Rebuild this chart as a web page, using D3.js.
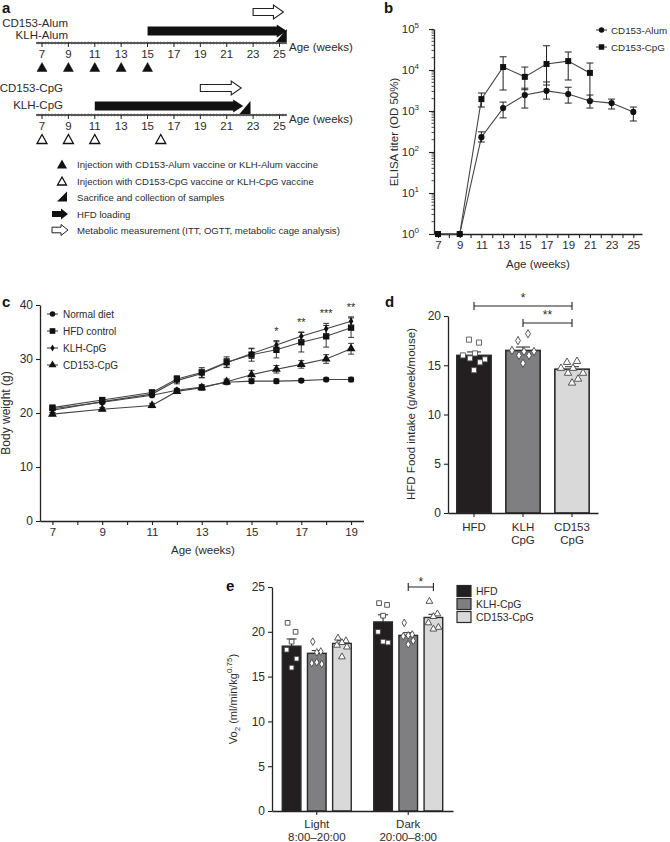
<!DOCTYPE html>
<html><head><meta charset="utf-8">
<script src="https://cdn.jsdelivr.net/npm/d3@7"></script>
<style>
body{margin:0;background:#fff}
svg{display:block}
text{font-family:"Liberation Sans",Arial,Helvetica,sans-serif;fill:#2b2b2b}
</style>
</head><body>
<svg id="fig" width="670" height="842"></svg>
<script>
// ================= DATA =================
// Panel a: schedule (weeks)
const timelineTicks = [7,9,11,13,15,17,19,21,23,25];
const alumInjectionWeeks = [7,9,11,13,15];
const cpgInjectionWeeks = [7,9,11,16];
const hfdStartWeeks = [15, 11];
const hfdEndWeeks = [25.55, 22.25];
const metabolicStartWeeks = [23, 19];
const metabolicEndWeeks = [25.3, 22.1];
const sacrificeWeeks = [25.55, 22.8];
const groupLabelsTop = ["CD153-Alum","KLH-Alum"];
const groupLabelsBottom = ["CD153-CpG","KLH-CpG"];
const legendTextsA = [
  "Injection with CD153-Alum vaccine or KLH-Alum vaccine",
  "Injection with CD153-CpG vaccine or KLH-CpG vaccine",
  "Sacrifice and collection of samples",
  "HFD loading",
  "Metabolic measurement (ITT, OGTT, metabolic cage analysis)"
];

// Panel b: ELISA titer
const alumWeeks = [7,9,11,13,15,17,19,21,23,25];
const alumTiter = [1,1,230,1180,2450,3100,2600,1750,1560,950];
const alumLow   = [1,1,175,680,1180,1950,1560,1180,1120,570];
const alumHigh  = [1,1,310,1650,3600,5100,3800,2450,1950,1250];
const cpgWeeks  = [7,9,11,13,15,17,19,21];
const cpgTiter  = [1,1,1950,11800,6800,14000,16500,8500];
const cpgLow    = [1,1,1250,3250,3300,4300,5700,1850];
const cpgHigh   = [1,1,2750,21000,11800,39000,27500,14800];
const elisaSeries = ["CD153-Alum","CD153-CpG"];
const elisaYTicks = [0,1,2,3,4,5];

// Panel c: body weight
const bwWeeks = [7,9,11,12,13,14,15,16,17,18,19];
const bwSeriesNames = ["Normal diet","HFD control","KLH-CpG","CD153-CpG"];
const bwNormal = [20.8,22.0,23.3,24.2,24.8,25.7,25.9,25.9,26.0,26.2,26.2];
const bwHFD    = [21.0,22.4,23.8,26.3,27.5,29.4,30.8,31.7,33.1,34.2,35.8];
const bwKLH    = [20.5,22.1,23.5,26.0,27.3,29.3,31.0,32.6,34.2,35.6,37.0];
const bwCD153  = [19.8,20.7,21.4,24.0,24.7,25.8,27.1,28.1,29.0,30.0,31.9];
const bwNormalErr = [0.3,0.3,0.3,0.3,0.4,0.4,0.4,0.4,0.3,0.3,0.4];
const bwHFDErr    = [0.4,0.4,0.5,0.6,0.9,1.0,1.2,1.5,1.8,2.0,1.8];
const bwKLHErr    = [0.4,0.3,0.4,0.6,0.8,0.8,0.9,0.8,0.8,1.0,0.8];
const bwCD153Err  = [0.3,0.3,0.4,0.4,0.5,0.5,0.8,0.7,0.7,0.8,1.0];
const bwSigWeeks = [16,17,18,19];
const bwSigLabels = ["*","**","***","**"];

// Panel d: HFD food intake
const intakeGroups = ["HFD","KLH-CpG","CD153-CpG"];
const intakeMeans = [16.0,16.5,14.6];
const intakeSem = [0.35,0.35,0.25];
const intakeHFD   = [17.6,17.3,16.0,16.2,15.6,15.7,15.3,14.5];
const intakeKLH   = [17.5,18.2,16.5,16.4,16.4,16.0,16.0,15.2];
const intakeCD153 = [15.3,15.4,14.7,14.7,14.2,14.2,13.6,13.2];

// Panel e: VO2
const vo2Periods = ["Light","Dark"];
const vo2PeriodLines = [["Light","8:00\u201320:00"],["Dark","20:00\u20138:00"]];
const vo2Groups = ["HFD","KLH-CpG","CD153-CpG"];
const vo2LightMeans = [18.4,17.6,18.7];
const vo2DarkMeans  = [21.1,19.6,21.6];
const vo2LightSem = [0.8,0.3,0.3];
const vo2DarkSem  = [0.8,0.3,0.35];
const vo2LightHFD   = [21.0,20.0,18.9,18.0,17.0,16.0];
const vo2LightKLH   = [18.9,17.8,17.7,16.5,16.4,16.6];
const vo2LightCD153 = [19.3,19.0,18.8,18.5,18.3,17.2];
const vo2DarkHFD    = [23.2,23.0,21.8,20.0,18.8,18.9];
const vo2DarkKLH    = [21.0,19.7,19.6,19.5,19.0,18.6];
const vo2DarkCD153  = [23.4,22.0,21.7,21.0,20.5,20.3];

// ================= DRAWING =================
const svg = d3.select("#fig");
const INK = "#222";
const barColors = ["#231f20","#7f7f81","#d9d9da"];

function styleAxis(g, fs){
  g.selectAll("path.domain").attr("stroke",INK).attr("stroke-width",1.3);
  g.selectAll(".tick line").attr("stroke",INK).attr("stroke-width",1.1);
  g.selectAll(".tick text").attr("font-size",fs||11.5)
    .attr("font-family",'"Liberation Sans",Arial,sans-serif');
}
function panelLabel(t,x,y){
  svg.append("text").attr("x",x).attr("y",y).attr("font-size",15).attr("font-weight","bold").style("fill","#111").text(t);
}
function vLabel(g,x,y,t,fs){
  return g.append("text").attr("transform",`translate(${x},${y}) rotate(-90)`)
    .attr("text-anchor","middle").attr("font-size",fs||11.5).text(t);
}

// ---------- Panel a ----------
panelLabel("a",2,13);
const ax = d3.scaleLinear().domain([7,25]).range([42,279.5]);
const gA = svg.append("g");
function arrowPath(x0,x1,yc,bh,hh,hl){
  return `M${x0},${yc-bh}L${x1-hl},${yc-bh}L${x1-hl},${yc-hh}L${x1},${yc}L${x1-hl},${yc+hh}L${x1-hl},${yc+bh}L${x0},${yc+bh}Z`;
}
function triPath(cx,cy,w,h){
  return `M${cx},${cy-h/2}L${cx+w/2},${cy+h/2}L${cx-w/2},${cy+h/2}Z`;
}
function sacPath(xr,yb,w,h){
  return `M${xr-w},${yb}L${xr},${yb-h}L${xr},${yb}Z`;
}
const tlConf = [
  {axisY:43, blackY:31, whiteY:12, labels:groupLabelsTop, labelX:68, labelY:[27,39], inj:alumInjectionWeeks, filled:true},
  {axisY:115, blackY:106, whiteY:88, labels:groupLabelsBottom, labelX:63, labelY:[92,109], inj:cpgInjectionWeeks, filled:false}
];
tlConf.forEach((c,i)=>{
  gA.append("line").attr("x1",ax(6.55)).attr("x2",ax(25.55)).attr("y1",c.axisY).attr("y2",c.axisY)
    .attr("stroke",INK).attr("stroke-width",1.4);
  d3.range(6.75,25.6,0.25).forEach(w=>{
    gA.append("line").attr("x1",ax(w)).attr("x2",ax(w)).attr("y1",c.axisY-1.5).attr("y2",c.axisY+1.5)
      .attr("stroke","#555").attr("stroke-width",0.6);
  });
  timelineTicks.forEach(t=>{
    gA.append("line").attr("x1",ax(t)).attr("x2",ax(t)).attr("y1",c.axisY).attr("y2",c.axisY+4)
      .attr("stroke",INK).attr("stroke-width",1);
    gA.append("text").attr("x",ax(t)).attr("y",c.axisY+15).attr("text-anchor","middle")
      .attr("font-size",11.5).text(t);
  });
  gA.append("text").attr("x",289).attr("y",c.axisY+8).attr("font-size",11.5).text("Age (weeks)");
  c.labels.forEach((l,j)=>{
    gA.append("text").attr("x",c.labelX).attr("y",c.labelY[j]).attr("text-anchor","end")
      .attr("font-size",11.5).text(l);
  });
  gA.append("path").attr("d",arrowPath(ax(hfdStartWeeks[i]),ax(hfdEndWeeks[i]),c.blackY,4.5,6.5,10))
    .attr("fill","#111");
  gA.append("path").attr("d",arrowPath(ax(metabolicStartWeeks[i]),ax(metabolicEndWeeks[i]),c.whiteY,3.5,7,10))
    .attr("fill","#fff").attr("stroke",INK).attr("stroke-width",1.1);
  gA.append("path").attr("d",sacPath(ax(sacrificeWeeks[i]),c.axisY-1,11,13)).attr("fill","#111");
  c.inj.forEach(w=>{
    gA.append("path").attr("d",triPath(ax(w),c.axisY+24,10,9))
      .attr("fill",c.filled?"#111":"#fff").attr("stroke","#111").attr("stroke-width",c.filled?0.5:1.3);
  });
});
const legY = [164,181,197,214,230];
legendTextsA.forEach((t,i)=>{
  gA.append("text").attr("x",77).attr("y",legY[i]+3.5).attr("font-size",9.6).text(t);
});
gA.append("path").attr("d",triPath(62,legY[0],10,9)).attr("fill","#111");
gA.append("path").attr("d",triPath(62,legY[1],9,8)).attr("fill","#fff").attr("stroke","#111").attr("stroke-width",1.3);
gA.append("path").attr("d",sacPath(67,legY[2]+4.5,10,10)).attr("fill","#111");
gA.append("path").attr("d",arrowPath(52,68,legY[3],3,5.5,7)).attr("fill","#111");
gA.append("path").attr("d",arrowPath(52,68,legY[4],2.8,5.5,7)).attr("fill","#fff").attr("stroke",INK).attr("stroke-width",1);

// ---------- Panel b ----------
panelLabel("b",384,13);
const bx = d3.scaleLinear().domain([6.63,25.8]).range([434,642]);
const by = d3.scaleLog().domain([1,1e5]).range([234,29]);
const gB = svg.append("g");
gB.append("g").attr("transform","translate(0,234)")
  .call(d3.axisBottom(bx).tickValues(d3.range(7,26)).tickSize(4).tickSizeOuter(0).tickFormat(d=>d%2?d:""))
  .call(g=>styleAxis(g,11.5));
gB.append("g").attr("transform","translate(434,0)")
  .call(d3.axisLeft(by).tickValues(elisaYTicks.map(e=>Math.pow(10,e))).tickSize(5).tickSizeOuter(0).tickFormat(""))
  .call(g=>styleAxis(g));
elisaYTicks.slice(0,-1).forEach(e=>{
  d3.range(2,10).forEach(m=>{
    const v = m*Math.pow(10,e);
    gB.append("line").attr("x1",431.5).attr("x2",434).attr("y1",by(v)).attr("y2",by(v))
      .attr("stroke",INK).attr("stroke-width",0.8);
  });
});
elisaYTicks.forEach(e=>{
  const t = gB.append("text").attr("x",419).attr("y",by(Math.pow(10,e))+4).attr("text-anchor","end").attr("font-size",11.5);
  t.append("tspan").text("10");
  t.append("tspan").attr("font-size",8).attr("dy",-5).text(e);
});
vLabel(gB,398,132,"ELISA titer (OD 50%)");
gB.append("text").attr("x",538).attr("y",268).attr("text-anchor","middle").attr("font-size",11.5).text("Age (weeks)");
function drawSeriesB(weeks,vals,lo,hi,shape){
  const line = d3.line().x((d,i)=>bx(weeks[i])).y(d=>by(d));
  gB.append("path").attr("d",line(vals)).attr("fill","none").attr("stroke","#444").attr("stroke-width",1.1);
  vals.forEach((v,i)=>{
    if(hi[i]>v*1.01){
      const x = bx(weeks[i]);
      gB.append("line").attr("x1",x).attr("x2",x).attr("y1",by(lo[i])).attr("y2",by(hi[i])).attr("stroke",INK).attr("stroke-width",1);
      [lo[i],hi[i]].forEach(e=>gB.append("line").attr("x1",x-3.5).attr("x2",x+3.5).attr("y1",by(e)).attr("y2",by(e)).attr("stroke",INK).attr("stroke-width",1));
    }
    gB.append("path").attr("transform",`translate(${bx(weeks[i])},${by(v)})`)
      .attr("d",d3.symbol().type(shape).size(shape===d3.symbolSquare?36:30)()).attr("fill","#111");
  });
}
drawSeriesB(alumWeeks,alumTiter,alumLow,alumHigh,d3.symbolCircle);
drawSeriesB(cpgWeeks,cpgTiter,cpgLow,cpgHigh,d3.symbolSquare);
[d3.symbolCircle,d3.symbolSquare].forEach((s,i)=>{
  const y = 30+ i*17;
  gB.append("line").attr("x1",596).attr("x2",607).attr("y1",y).attr("y2",y).attr("stroke","#444").attr("stroke-width",1.1);
  gB.append("path").attr("transform",`translate(601.5,${y})`).attr("d",d3.symbol().type(s).size(i?30:24)()).attr("fill","#111");
  gB.append("text").attr("x",611).attr("y",y+3.5).attr("font-size",9.8).text(elisaSeries[i]);
});

// ---------- Panel c ----------
panelLabel("c",2,307);
const cxs = d3.scaleLinear().domain([6.5,19.5]).range([40,363.5]);
const cys = d3.scaleLinear().domain([0,40]).range([521,305]);
const gC = svg.append("g");
gC.append("g").attr("transform","translate(0,521)")
  .call(d3.axisBottom(cxs).tickValues(d3.range(7,20)).tickSize(4).tickSizeOuter(0).tickFormat(d=>d%2?d:""))
  .call(g=>styleAxis(g,11.5));
gC.append("g").attr("transform","translate(40,0)")
  .call(d3.axisLeft(cys).tickValues([0,10,20,30,40]).tickSize(4).tickSizeOuter(0))
  .call(g=>styleAxis(g,12));
vLabel(gC,10,413,"Body weight (g)",12);
gC.append("text").attr("x",203).attr("y",554).attr("text-anchor","middle").attr("font-size",11.5).text("Age (weeks)");
const bwShapes = [d3.symbolCircle,d3.symbolSquare,d3.symbolDiamond,d3.symbolTriangle];
const bwSizes = [30,40,18,34];
const bwVals = [bwNormal,bwHFD,bwKLH,bwCD153];
const bwErrs = [bwNormalErr,bwHFDErr,bwKLHErr,bwCD153Err];
bwVals.forEach((vals,s)=>{
  const line = d3.line().x((d,i)=>cxs(bwWeeks[i])).y(d=>cys(d));
  gC.append("path").attr("d",line(vals)).attr("fill","none").attr("stroke","#444").attr("stroke-width",1.1);
});
bwVals.forEach((vals,s)=>{
  vals.forEach((v,i)=>{
    const x = cxs(bwWeeks[i]), e = bwErrs[s][i];
    gC.append("line").attr("x1",x).attr("x2",x).attr("y1",cys(v-e)).attr("y2",cys(v+e)).attr("stroke",INK).attr("stroke-width",0.9);
    [v-e,v+e].forEach(t=>gC.append("line").attr("x1",x-3).attr("x2",x+3).attr("y1",cys(t)).attr("y2",cys(t)).attr("stroke",INK).attr("stroke-width",0.9));
    gC.append("path").attr("transform",`translate(${x},${cys(v)})`)
      .attr("d",d3.symbol().type(bwShapes[s]).size(bwSizes[s])()).attr("fill","#111");
  });
});
bwSigWeeks.forEach((w,i)=>{
  const idx = bwWeeks.indexOf(w);
  const top = Math.max(bwKLH[idx]+bwKLHErr[idx], bwHFD[idx]+bwHFDErr[idx]);
  gC.append("text").attr("x",cxs(w)).attr("y",cys(top)-6).attr("text-anchor","middle").attr("font-size",11).text(bwSigLabels[i]);
});
bwSeriesNames.forEach((n,i)=>{
  const y = 314 + i*17;
  gC.append("line").attr("x1",47).attr("x2",58).attr("y1",y).attr("y2",y).attr("stroke","#444").attr("stroke-width",1.1);
  gC.append("path").attr("transform",`translate(52.5,${y})`).attr("d",d3.symbol().type(bwShapes[i]).size(bwSizes[i]*0.8)()).attr("fill","#111");
  gC.append("text").attr("x",63).attr("y",y+3.5).attr("font-size",10).text(n);
});

// ---------- Panel d ----------
panelLabel("d",385,307);
const dx = d3.scaleBand().domain(intakeGroups).range([448,598]).paddingInner(0.3).paddingOuter(0.18);
const dy = d3.scaleLinear().domain([0,20]).range([513,316]);
const gD = svg.append("g");
gD.selectAll("rect").data(intakeMeans).join("rect")
  .attr("x",(d,i)=>dx(intakeGroups[i])).attr("width",dx.bandwidth())
  .attr("y",d=>dy(d)).attr("height",d=>dy(0)-dy(d))
  .attr("fill",(d,i)=>barColors[i]).attr("stroke","#2a2a2a").attr("stroke-width",1.6);
intakeMeans.forEach((m,i)=>{
  const x = dx(intakeGroups[i])+dx.bandwidth()/2;
  gD.append("line").attr("x1",x).attr("x2",x).attr("y1",dy(m)).attr("y2",dy(m+intakeSem[i])).attr("stroke",INK).attr("stroke-width",1);
  gD.append("line").attr("x1",x-7).attr("x2",x+7).attr("y1",dy(m+intakeSem[i])).attr("y2",dy(m+intakeSem[i])).attr("stroke",INK).attr("stroke-width",1);
});
gD.append("g").attr("transform","translate(0,513)")
  .call(d3.axisBottom(dx).tickSize(4).tickSizeOuter(0).tickFormat(""))
  .call(g=>styleAxis(g));
gD.append("g").attr("transform","translate(448,0)")
  .call(d3.axisLeft(dy).tickValues([0,5,10,15,20]).tickSize(4).tickSizeOuter(0))
  .call(g=>styleAxis(g,12));
intakeGroups.forEach((gname,i)=>{
  const x = dx(gname)+dx.bandwidth()/2;
  const parts = gname.split("-");
  parts.forEach((p,j)=>gD.append("text").attr("x",x).attr("y",531+j*13).attr("text-anchor","middle").attr("font-size",11.5).text(p));
});
const dPts = [intakeHFD,intakeKLH,intakeCD153];
const dShapes = [d3.symbolSquare,d3.symbolDiamond,d3.symbolTriangle];
const dSizes = [26,20,24];
const jitter8 = [-5,5,-11,1,11,-4,6,0];
dPts.forEach((arr,gi)=>{
  const cx0 = dx(intakeGroups[gi])+dx.bandwidth()/2;
  arr.forEach((v,j)=>{
    gD.append("path").attr("transform",`translate(${cx0+jitter8[j]},${dy(v)})`)
      .attr("d",d3.symbol().type(dShapes[gi]).size(dSizes[gi])())
      .attr("fill","#fff").attr("stroke",gi===0?"#555":"#444").attr("stroke-width",0.9);
  });
});
vLabel(gD,415,414,"HFD Food intake (g/week/mouse)");
function bracket(g,x1,x2,y,label,ty){
  g.append("path").attr("d",`M${x1},${y-4}V${y+4}M${x1},${y}H${x2}M${x2},${y-4}V${y+4}`).attr("stroke",INK).attr("stroke-width",1.1).attr("fill","none");
  g.append("text").attr("x",(x1+x2)/2).attr("y",ty).attr("text-anchor","middle").attr("font-size",12).text(label);
}
const dc = i=>dx(intakeGroups[i])+dx.bandwidth()/2;
bracket(gD,dc(0),dc(2),306,"*",302);
bracket(gD,dc(1),dc(2),323,"**",319);

// ---------- Panel e ----------
panelLabel("e",226,591);
const ex0 = d3.scaleBand().domain(vo2Periods).range([272,453]).paddingInner(0.235).paddingOuter(0.107);
const ex1 = d3.scaleBand().domain(vo2Groups).range([0,ex0.bandwidth()]).paddingInner(0.26).paddingOuter(0.02);
const ey = d3.scaleLinear().domain([0,25]).range([811,587]);
const gE = svg.append("g");
const vo2Means = [vo2LightMeans,vo2DarkMeans];
const vo2Sems = [vo2LightSem,vo2DarkSem];
const vo2Pts = [[vo2LightHFD,vo2LightKLH,vo2LightCD153],[vo2DarkHFD,vo2DarkKLH,vo2DarkCD153]];
const jitter6 = [-4,4,0,-5,5,0];
const eShapeSizes = [22,17,20];
vo2Periods.forEach((p,pi)=>{
  vo2Groups.forEach((gname,gi)=>{
    const x0 = ex0(p)+ex1(gname), m = vo2Means[pi][gi], s = vo2Sems[pi][gi];
    gE.append("rect").attr("x",x0).attr("width",ex1.bandwidth()).attr("y",ey(m)).attr("height",ey(0)-ey(m))
      .attr("fill",barColors[gi]).attr("stroke","#2a2a2a").attr("stroke-width",1.4);
    const xc = x0+ex1.bandwidth()/2;
    gE.append("line").attr("x1",xc).attr("x2",xc).attr("y1",ey(m)).attr("y2",ey(m+s)).attr("stroke",INK).attr("stroke-width",1);
    gE.append("line").attr("x1",xc-5).attr("x2",xc+5).attr("y1",ey(m+s)).attr("y2",ey(m+s)).attr("stroke",INK).attr("stroke-width",1);
    vo2Pts[pi][gi].forEach((v,j)=>{
      gE.append("path").attr("transform",`translate(${xc+jitter6[j]},${ey(v)})`)
        .attr("d",d3.symbol().type(dShapes[gi]).size(eShapeSizes[gi])())
        .attr("fill","#fff").attr("stroke","#444").attr("stroke-width",0.9);
    });
  });
});
gE.append("g").attr("transform","translate(0,811)")
  .call(d3.axisBottom(ex0).tickSize(4).tickSizeOuter(0).tickFormat(""))
  .call(g=>styleAxis(g));
gE.append("g").attr("transform","translate(272,0)")
  .call(d3.axisLeft(ey).tickValues([0,5,10,15,20,25]).tickSize(4).tickSizeOuter(0))
  .call(g=>styleAxis(g,12));
vo2PeriodLines.forEach((lines,pi)=>{
  const x = ex0(vo2Periods[pi])+ex0.bandwidth()/2;
  lines.forEach((l,j)=>gE.append("text").attr("x",x).attr("y",828+j*13).attr("text-anchor","middle").attr("font-size",11.5).text(l));
});
{
  const t = gE.append("text").attr("transform","translate(237,699) rotate(-90)").attr("text-anchor","middle").attr("font-size",11);
  t.append("tspan").text("Vo");
  t.append("tspan").attr("font-size",8).attr("dy",3).text("2");
  t.append("tspan").attr("dy",-3).text(" (ml/min/kg");
  t.append("tspan").attr("font-size",8).attr("dy",-5).text("0.75");
  t.append("tspan").attr("dy",5).text(")");
}
const ec = gi=>ex0("Dark")+ex1(vo2Groups[gi])+ex1.bandwidth()/2;
bracket(gE,ec(1),ec(2),587,"*",586);
vo2Groups.forEach((gname,i)=>{
  const y = 591+i*13;
  gE.append("rect").attr("x",457).attr("y",y-5.5).attr("width",14).attr("height",11)
    .attr("fill",barColors[i]).attr("stroke","#2a2a2a").attr("stroke-width",1.2);
  gE.append("text").attr("x",476).attr("y",y+4).attr("font-size",10.5).text(gname);
});
</script>
</body></html>
